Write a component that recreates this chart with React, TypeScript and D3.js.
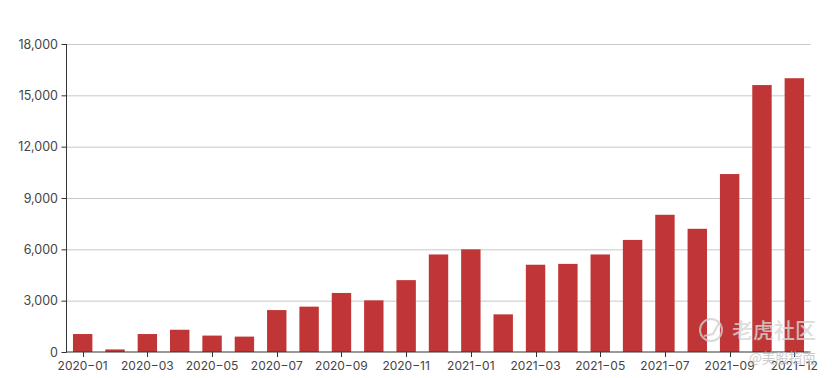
import React from "react";
import * as d3 from "d3";

const months = ["2020-01","2020-02","2020-03","2020-04","2020-05","2020-06","2020-07","2020-08","2020-09","2020-10","2020-11","2020-12","2021-01","2021-02","2021-03","2021-04","2021-05","2021-06","2021-07","2021-08","2021-09","2021-10","2021-12"];
const values = [1050,150,1050,1300,960,900,2450,2650,3450,3020,4200,5700,6000,2200,5100,5150,5700,6550,8020,7200,10400,15600,16000];
const yTicks = [0,3000,6000,9000,12000,15000,18000];
const xLabels = ["2020-01","2020-03","2020-05","2020-07","2020-09","2020-11","2021-01","2021-03","2021-05","2021-07","2021-09","2021-12"];

const W = 832, H = 378;
const FONT = "Inter, Roboto, sans-serif";

export default function App() {
  const x = d3.scaleBand<string>().domain(months).range([66.5, 810.5]).paddingInner(0.4).paddingOuter(0.2);
  const y = d3.scaleLinear().domain([0, 18000]).range([352, 44]);
  const fmt = d3.format(",");
  const c = (m: string) => (x(m) as number) + x.bandwidth() / 2;
  return (
    <svg width={W} height={H} style={{ position: "absolute", left: 0, top: 0, background: "#fff" }} fontFamily={FONT}>
      {yTicks.filter(t => t > 0).map(t => (
        <line key={t} x1={66.5} x2={810.5} y1={y(t) + 0.5} y2={y(t) + 0.5} stroke="#c8c8c8" />
      ))}
      {months.map((m, i) => (
        <rect key={m} x={x(m)} y={y(values[i])} width={x.bandwidth()} height={352 - y(values[i])} fill="#c03636" />
      ))}
      <line x1={66.5} x2={66.5} y1={44} y2={352.5} stroke="#333" />
      <line x1={66} x2={810.5} y1={352} y2={352} stroke="#333" />
      {yTicks.map(t => (
        <g key={t}>
          <line x1={61.5} x2={66.5} y1={y(t) + 0.5} y2={y(t) + 0.5} stroke="#333" />
          <text x={58} y={y(t) + 4.5} textAnchor="end" fontSize={12.5} fill="#444">{fmt(t)}</text>
        </g>
      ))}
      {xLabels.map(m => (
        <g key={m}>
          <line x1={Math.round(c(m)) + 0.5} x2={Math.round(c(m)) + 0.5} y1={352} y2={357} stroke="#333" />
          <text x={c(m)} y={370} textAnchor="middle" fontSize={12} fill="#444">{m.replace("-", "\u2212")}</text>
        </g>
      ))}
      <g opacity={0.8}>
        <circle cx={711} cy={330} r={11} fill="none" stroke="#d0d0d0" strokeWidth={2} />
        <path d="M704 336 L713 334 L719 323" fill="none" stroke="#d0d0d0" strokeWidth={2} />
        <text x={732} y={338} fontSize={21} fontWeight={500} fill="#d6d6d6" fontFamily="'Noto Sans CJK SC'">老虎社区</text>
        <text x={749} y={363} fontSize={13.5} fill="#c0c0c0" fontFamily="'Noto Sans CJK SC'">@美股指南</text>
      </g>
    </svg>
  );
}
